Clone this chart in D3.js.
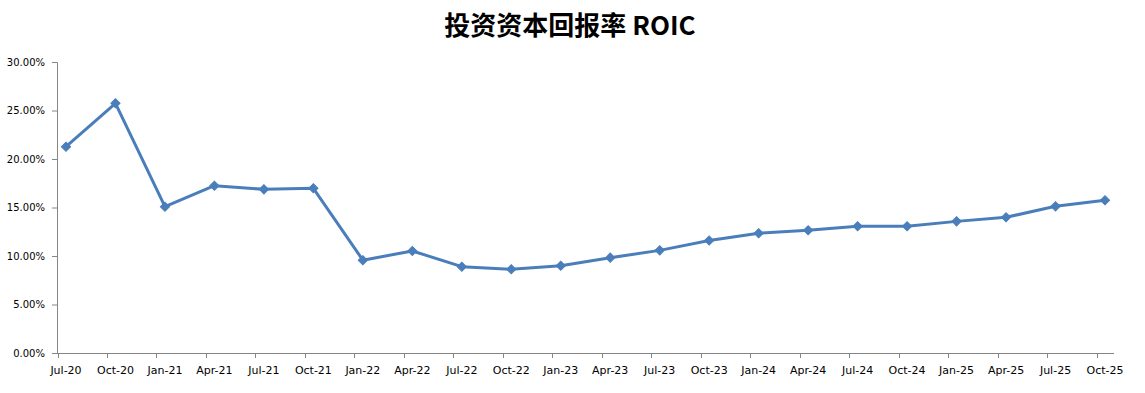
<!DOCTYPE html>
<html>
<head>
<meta charset="utf-8">
<script src="https://cdn.jsdelivr.net/npm/d3@7"></script>
<style>
  body { margin: 0; background: #fff; }
  svg { display: block; }
</style>
</head>
<body>
<svg id="chart" width="1145" height="393"></svg>
<script>
// quarter labels along the category axis
var quarters = ["Jul-20", "Oct-20", "Jan-21", "Apr-21", "Jul-21", "Oct-21",
  "Jan-22", "Apr-22", "Jul-22", "Oct-22", "Jan-23", "Apr-23", "Jul-23", "Oct-23",
  "Jan-24", "Apr-24", "Jul-24", "Oct-24", "Jan-25", "Apr-25", "Jul-25", "Oct-25"];

// ROIC, in percent
var roic = [21.27, 25.74, 15.08, 17.25, 16.87, 16.98,
  9.57, 10.52, 8.90, 8.63, 9.00, 9.83, 10.58, 11.60,
  12.34, 12.65, 13.06, 13.06, 13.57, 13.99, 15.12, 15.74];

var yTicks = [0, 5, 10, 15, 20, 25, 30];

var svg = d3.select("#chart");

var axisLeft = 57, axisRight = 1114, plotTop = 62, plotBottom = 353;

var x = d3.scalePoint()
  .domain(quarters)
  .range([66, 1105]);

var y = d3.scaleLinear()
  .domain([0, 30])
  .range([plotBottom, plotTop]);

var axisColor = "#868686";
var lineColor = "#4A7EBB";

// title
svg.append("text")
  .attr("x", 570)
  .attr("y", 35)
  .attr("text-anchor", "middle")
  .style("font-family", "'Noto Sans CJK SC', sans-serif")
  .style("font-size", "26px")
  .style("font-weight", "bold")
  .style("fill", "#000")
  .text("投资资本回报率 ROIC");

// y axis
var gy = svg.append("g")
  .attr("transform", "translate(" + axisLeft + ",0)")
  .call(d3.axisLeft(y)
    .tickValues(yTicks)
    .tickSize(5)
    .tickPadding(7)
    .tickFormat(function(d) { return d.toFixed(2) + "%"; }));

gy.select(".domain").attr("stroke", axisColor);
gy.selectAll(".tick line").attr("stroke", axisColor);
gy.selectAll(".tick text")
  .style("font-family", "'DejaVu Sans', sans-serif")
  .style("font-size", "10px")
  .attr("fill", "#000");

// x axis, ticks sit a little left of each point
var gx = svg.append("g")
  .attr("class", "x-axis");

gx.append("line")
  .attr("x1", axisLeft)
  .attr("x2", axisRight)
  .attr("y1", plotBottom + 0.5)
  .attr("y2", plotBottom + 0.5)
  .attr("stroke", axisColor);

gx.selectAll("line.tick")
  .data(quarters)
  .enter()
  .append("line")
  .attr("class", "tick")
  .attr("x1", function(d) { return Math.round(x(d) - 8.5) + 0.5; })
  .attr("x2", function(d) { return Math.round(x(d) - 8.5) + 0.5; })
  .attr("y1", plotBottom)
  .attr("y2", plotBottom + 5)
  .attr("stroke", axisColor);

gx.selectAll("text")
  .data(quarters)
  .enter()
  .append("text")
  .attr("x", function(d) { return x(d); })
  .attr("y", plotBottom + 21)
  .attr("text-anchor", "middle")
  .style("font-family", "'DejaVu Sans', sans-serif")
  .style("font-size", "11px")
  .attr("fill", "#000")
  .text(function(d) { return d; });

// series line
var line = d3.line()
  .x(function(d, i) { return x(quarters[i]); })
  .y(function(d) { return y(d); });

svg.append("path")
  .datum(roic)
  .attr("d", line)
  .attr("fill", "none")
  .attr("stroke", lineColor)
  .attr("stroke-width", 3)
  .attr("stroke-linejoin", "round");

// square markers turned 45 degrees, like Excel's diamond
var diamond = d3.symbol().type(d3.symbolSquare).size(42);

svg.selectAll("path.marker")
  .data(roic)
  .enter()
  .append("path")
  .attr("class", "marker")
  .attr("d", diamond)
  .attr("transform", function(d, i) {
    return "translate(" + x(quarters[i]) + "," + y(d) + ") rotate(45)";
  })
  .attr("fill", lineColor)
  .attr("stroke", lineColor)
  .attr("stroke-width", 1);
</script>
</body>
</html>
